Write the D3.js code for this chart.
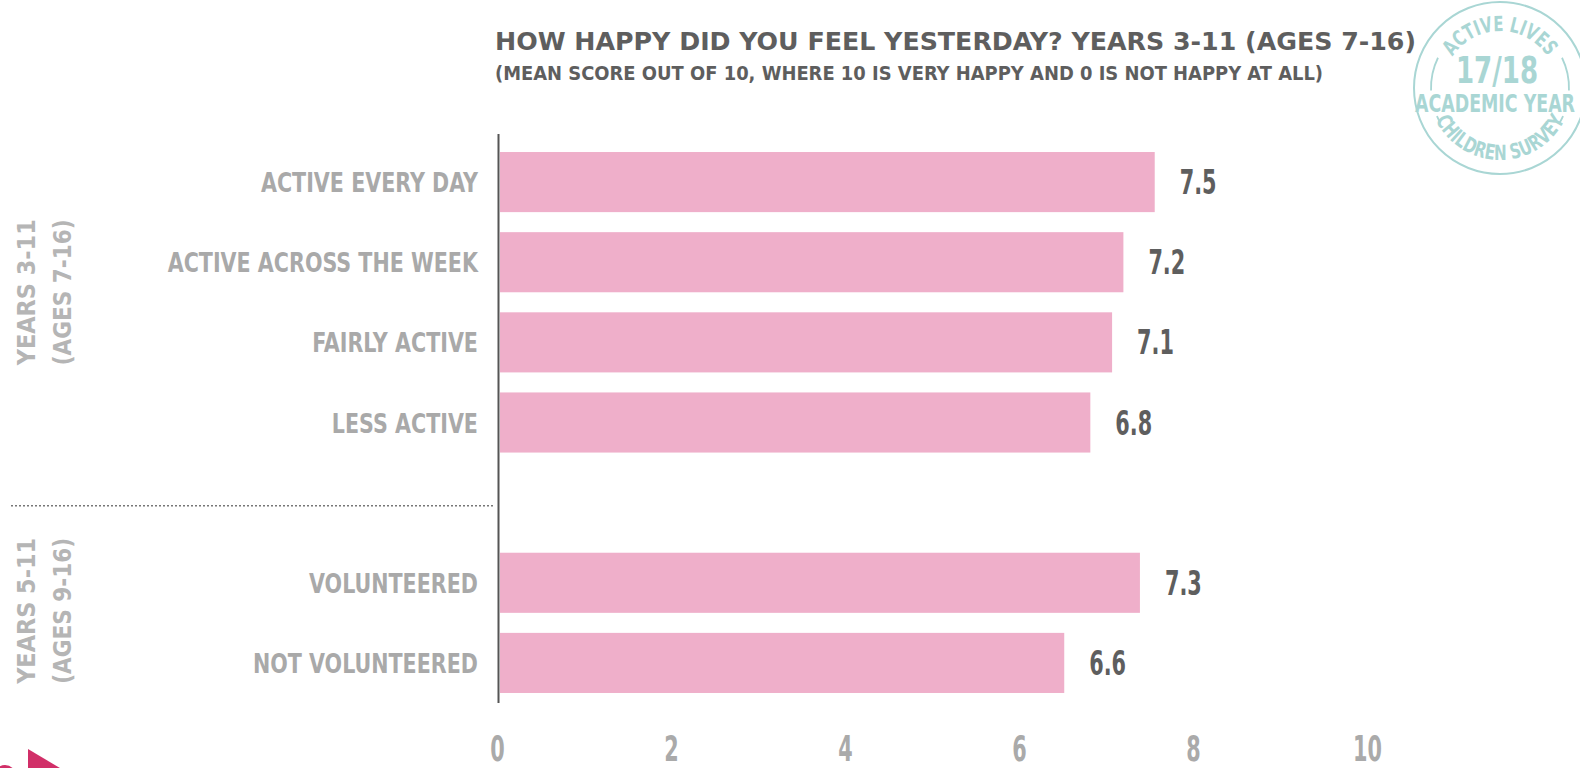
<!DOCTYPE html>
<html lang="en">
<head>
<meta charset="UTF-8">
<title>How happy did you feel yesterday?</title>
<script src="https://d3js.org/d3.v7.min.js"></script>
<style>
  html, body { margin: 0; padding: 0; background: #fff; }
  svg { display: block; }
  text { font-family: "DejaVu Sans Condensed", "Liberation Sans Narrow", sans-serif; font-weight: bold; }
</style>
</head>
<body>
<script>
// data
var categories = ['ACTIVE EVERY DAY', 'ACTIVE ACROSS THE WEEK', 'FAIRLY ACTIVE', 'LESS ACTIVE', '', 'VOLUNTEERED', 'NOT VOLUNTEERED'];
var values     = [7.56, 7.2, 7.07, 6.82, null, 7.39, 6.52];
var valueLabels = ['7.5', '7.2', '7.1', '6.8', '', '7.3', '6.6'];
var groups = [
  { lines: ['YEARS 3-11', '(AGES 7-16)'], from: 'ACTIVE EVERY DAY', to: 'LESS ACTIVE' },
  { lines: ['YEARS 5-11', '(AGES 9-16)'], from: 'VOLUNTEERED', to: 'NOT VOLUNTEERED' }
];
var xTicks = [0, 2, 4, 6, 8, 10];
var title = 'HOW HAPPY DID YOU FEEL YESTERDAY? YEARS 3-11 (AGES 7-16)';
var subtitle = '(MEAN SCORE OUT OF 10, WHERE 10 IS VERY HAPPY AND 0 IS NOT HAPPY AT ALL)';

var W = 1580, H = 768;
var pink = '#efafca', dark = '#5e5e5e', light = '#a9a9a9', teal = '#a9d6d4';

// squeeze text horizontally, the original uses a narrow display face
function condense(sel, f) {
  sel.each(function(){
    var w = this.getComputedTextLength();
    d3.select(this).attr('textLength', w * f).attr('lengthAdjust', 'spacingAndGlyphs');
  });
}

var svg = d3.select('body').append('svg')
  .attr('width', W).attr('height', H);

var x = d3.scaleLinear().domain([0, 10]).range([497, 1367]);
var y = d3.scaleBand().domain(categories).range([142, 703])
  .paddingInner(0.25).paddingOuter(0.125);

// title
svg.append('text').attr('x', 495).attr('y', 50)
  .attr('font-size', 25).attr('fill', dark)
  .attr('textLength', 921).attr('lengthAdjust', 'spacingAndGlyphs')
  .text(title);
svg.append('text').attr('x', 495).attr('y', 80)
  .attr('font-size', 20).attr('fill', dark)
  .attr('textLength', 828).attr('lengthAdjust', 'spacingAndGlyphs')
  .text(subtitle);

// bars
var rows = categories.map(function(c, i){ return {cat: c, v: values[i], label: valueLabels[i]}; })
  .filter(function(d){ return d.v != null; });

svg.selectAll('rect.bar').data(rows).enter().append('rect')
  .attr('class', 'bar')
  .attr('x', x(0) + 3)
  .attr('y', function(d){ return y(d.cat); })
  .attr('width', function(d){ return x(d.v) - x(0) - 3; })
  .attr('height', y.bandwidth())
  .attr('fill', pink);

svg.selectAll('text.val').data(rows).enter().append('text')
  .attr('class', 'val')
  .attr('x', function(d){ return x(d.v) + 25; })
  .attr('y', function(d){ return y(d.cat) + y.bandwidth() / 2 + 12; })
  .attr('font-size', 34).attr('fill', dark)
  .text(function(d){ return d.label; })
  .call(condense, 0.68);

svg.selectAll('text.cat').data(rows).enter().append('text')
  .attr('class', 'cat')
  .attr('x', 478)
  .attr('y', function(d){ return y(d.cat) + y.bandwidth() / 2 + 10; })
  .attr('text-anchor', 'end')
  .attr('font-size', 27).attr('fill', light)
  .text(function(d){ return d.cat; })
  .call(condense, 0.85);

// axis line
svg.append('line')
  .attr('x1', x(0) + 1.5).attr('x2', x(0) + 1.5)
  .attr('y1', 134).attr('y2', y.range()[1])
  .attr('stroke', '#555').attr('stroke-width', 2);

// separator between groups
var sepY = y('') + y.bandwidth() / 2 + 3;
svg.append('line')
  .attr('x1', 11).attr('x2', x(0) - 3)
  .attr('y1', sepY).attr('y2', sepY)
  .attr('stroke', '#777').attr('stroke-width', 1.5)
  .attr('stroke-dasharray', '2,2');

// x axis labels
var xAxis = d3.axisBottom(x).tickValues(xTicks).tickSize(0).tickPadding(0);
var gx = svg.append('g').attr('transform', 'translate(0,737)').call(xAxis);
gx.select('.domain').remove();
gx.selectAll('text')
  .attr('dy', 0).attr('y', 24)
  .attr('font-size', 35).attr('fill', '#aaa')
  .style('font-family', '"DejaVu Sans Condensed", sans-serif')
  .style('font-weight', 'bold')
  .call(condense, 0.66);

// group labels (rotated)
groups.forEach(function(g, gi){
  var cy = (y(g.from) + y(g.to) + y.bandwidth()) / 2 - (gi === 0 ? 10 : 12);
  g.lines.forEach(function(line, li){
    svg.append('text')
      .attr('transform', 'translate(' + (35 + li * 36) + ',' + cy + ') rotate(-90)')
      .attr('text-anchor', 'middle')
      .attr('font-size', 25).attr('fill', '#b5b5b5')
      .attr('textLength', 146).attr('lengthAdjust', 'spacingAndGlyphs')
      .text(line);
  });
});

// badge
var bx = 1500, by = 88;
var badge = svg.append('g').attr('transform', 'translate(' + bx + ',' + by + ')');
badge.append('circle').attr('r', 86).attr('fill', 'none')
  .attr('stroke', teal).attr('stroke-width', 2);

var ring = d3.arc().innerRadius(69).outerRadius(69);
[[-92, -64], [64, 92], [114, 120], [240, 246]].forEach(function(a){
  badge.append('path')
    .attr('d', ring({startAngle: a[0] * Math.PI / 180, endAngle: a[1] * Math.PI / 180}))
    .attr('fill', 'none').attr('stroke', teal).attr('stroke-width', 1.8);
});

var topPath = d3.path();
topPath.arc(0, 0, 57, -Math.PI / 2 - 1.05, -Math.PI / 2 + 1.05, false);
badge.append('path').attr('id', 'badgeTop').attr('d', topPath.toString()).attr('fill', 'none');
badge.append('text').attr('font-size', 21).attr('fill', teal)
  .append('textPath').attr('href', '#badgeTop').attr('startOffset', '50%')
  .attr('text-anchor', 'middle')
  .attr('textLength', 112).attr('lengthAdjust', 'spacingAndGlyphs')
  .text('ACTIVE LIVES');

var botPath = d3.path();
botPath.arc(0, 0, 72, Math.PI / 2 + 1.2, Math.PI / 2 - 1.2, true);
badge.append('path').attr('id', 'badgeBot').attr('d', botPath.toString()).attr('fill', 'none');
badge.append('text').attr('font-size', 21).attr('fill', teal)
  .append('textPath').attr('href', '#badgeBot').attr('startOffset', '50%')
  .attr('text-anchor', 'middle')
  .attr('textLength', 160).attr('lengthAdjust', 'spacingAndGlyphs')
  .text('CHILDREN SURVEY');

badge.append('text').attr('x', -3).attr('y', -5).attr('text-anchor', 'middle')
  .attr('font-size', 38).attr('fill', teal)
  .attr('textLength', 82).attr('lengthAdjust', 'spacingAndGlyphs')
  .text('17/18');
badge.append('text').attr('x', -5).attr('y', 24).attr('text-anchor', 'middle')
  .attr('font-size', 25).attr('fill', teal)
  .attr('textLength', 160).attr('lengthAdjust', 'spacingAndGlyphs')
  .text('ACADEMIC YEAR');

// bottom-left decoration
svg.append('polygon').attr('points', '28,749 28,800 70,774').attr('fill', '#d12f68');
svg.append('circle').attr('cx', 5).attr('cy', 776).attr('r', 11).attr('fill', '#d12f68');
</script>
</body>
</html>
